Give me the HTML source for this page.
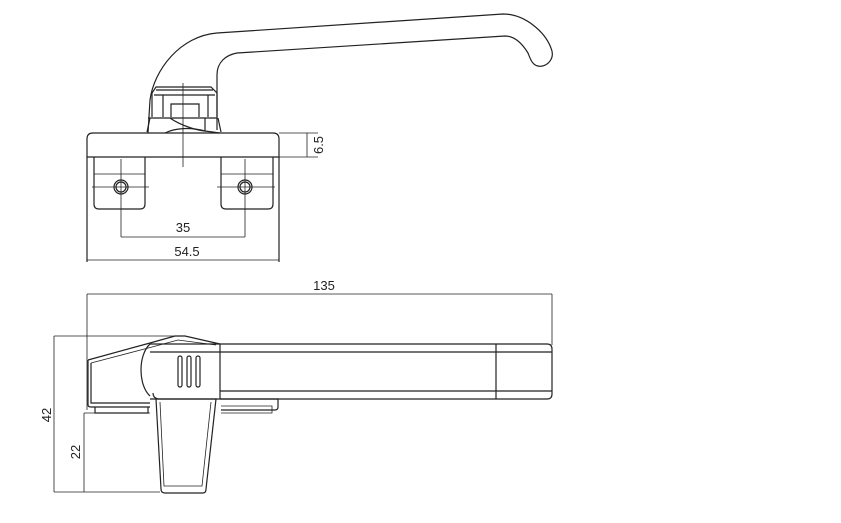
<!DOCTYPE html>
<html><head><meta charset="utf-8"><style>
html,body{margin:0;padding:0;background:#fff;}
svg{display:block;}
text{font-family:"Liberation Sans",sans-serif;font-size:13px;fill:#222;}
</style></head><body>
<svg width="841" height="523" viewBox="0 0 841 523" xmlns="http://www.w3.org/2000/svg">
<g fill="none" stroke="#222" stroke-width="1.2">
<!-- TOP VIEW -->
<!-- handle -->
<path d="M148,133 L150,100 C154,70 180,36 217,33 L503,14 C525,14 545,32 551,48 C556,60 545,68 538,66 C532,65 530,58 528,53 C520,40 512,36 505,36 L237,53 C226,55 217,62 217,75 L217,130"/>
<!-- hub -->
<path d="M152,117 L152,93 L156,87 L211,87 L217,93 L217,117"/>
<path d="M154,95 L215,95"/>
<path d="M163,95 L163,117 M208,95 L208,117"/>
<path d="M171,117 L171,104 L199,104 L199,117"/>
<path d="M156,90 L213,90"/>
<path d="M148,118 L217,118"/>
<path d="M147,132 L150,118 M218,118 L221,132"/>
<path d="M165,133 C175,128 190,127 205,131 L220,133"/>
<path d="M170,118 C180,125 195,130 205,131 L205,118"/>
<!-- base plate -->
<path d="M87,157 L87,139 Q87,133 93,133 L273,133 Q279,133 279,139 L279,157 Z"/>
<path d="M87,157 L87,262 M279,157 L279,262"/>
<!-- tabs -->
<path d="M94,157 L94,204 Q94,209 99,209 L140,209 Q145,209 145,204 L145,157"/>
<path d="M221,157 L221,204 Q221,209 226,209 L268,209 Q273,209 273,204 L273,157"/>
<path d="M94,174 L145,174 M221,174 L273,174" stroke-width="0.8"/>
<circle cx="121" cy="187" r="7"/><circle cx="121" cy="187" r="5"/>
<circle cx="245" cy="187" r="7"/><circle cx="245" cy="187" r="5"/>
<path d="M92,187 L149,187 M217,187 L275,187 M121,159 L121,237 M245,159 L245,237" stroke-width="0.8"/>
<path d="M183,83 L183,167" stroke-width="0.8"/>
<!-- dims -->
<path d="M121,237 L245,237 M87,260 L279,260" stroke-width="0.8"/>
<path d="M279,133 L318,133 M279,157 L318,157 M307,133 L307,157" stroke-width="0.8"/>

<!-- SIDE VIEW -->
<path d="M87,294 L552,294 M87,294 L87,410 M552,294 L552,345" stroke-width="0.8"/>
<path d="M54,336 L180,336 M54,336 L54,492 M54,492 L160,492 M84,413 L150,413 M84,413 L84,492" stroke-width="0.8"/>
<!-- housing -->
<path d="M88,360 L88,405 Q88,407 91,407 L150,407"/>
<path d="M88,360 L150,343 L175,336 L185,336 L220,344"/>
<path d="M91,363 L91,403 L150,403"/>
<path d="M91,363 L152,347 L178,340 L216,345" stroke-width="0.8"/>
<path d="M150,344 C138,355 138,385 150,396"/>
<!-- bar -->
<path d="M150,344 L547,344 Q552,344 552,349 L552,394 Q552,399 547,399 L150,399"/>
<path d="M150,352 L552,352 M220,391 L552,391 M220,344 L220,399 M496,344 L496,399"/>
<rect x="178" y="356" width="4" height="31" rx="2"/>
<rect x="187" y="356" width="4" height="31" rx="2"/>
<rect x="196" y="356" width="4" height="31" rx="2"/>
<!-- feet -->
<path d="M95,407 L95,413 L148,413 L148,407"/>
<path d="M220,399 L278,399 L278,407 Q278,410 275,410 L221,410"/>
<path d="M221,406 L272,406 L272,413 L221,413" stroke-width="0.8"/>
<!-- lever -->
<path d="M153,393 Q153,398 158,399 L217,399"/>
<path d="M156,399 L161,489 Q161,493 165,493 L203,493 Q206,493 206,489 L216,399"/>
<path d="M160,402 L164,486 L202,486 L211,402" stroke-width="0.8"/>
</g>
<text x="183" y="232" text-anchor="middle">35</text>
<text x="187" y="256" text-anchor="middle">54.5</text>
<text x="324" y="290" text-anchor="middle">135</text>
<text transform="translate(323,145) rotate(-90)" text-anchor="middle">6.5</text>
<text transform="translate(51,415) rotate(-90)" text-anchor="middle">42</text>
<text transform="translate(80,452) rotate(-90)" text-anchor="middle">22</text>
</svg>
</body></html>
